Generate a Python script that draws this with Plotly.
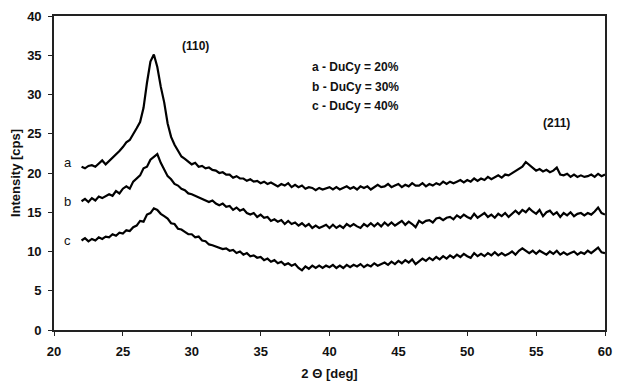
import plotly.graph_objects as go

# 2-theta grid: 22.0 .. 60.0 deg, step 0.25
theta_start = 22.0
theta_step = 0.25

curve_a = [
    20.8, 20.6, 20.9, 21.0, 20.8, 21.2, 21.6, 21.1,
    21.5, 22.0, 22.3, 22.8, 23.3, 23.9, 24.2, 24.9,
    25.7, 26.5, 28.3, 31.5, 34.2, 35.1, 33.5, 31.0,
    29.0, 26.3, 24.6, 23.6, 22.8, 22.1, 21.8, 21.5,
    21.1, 21.3, 20.8, 20.9, 20.6, 20.7, 20.4, 20.3,
    20.0, 20.1, 19.8, 19.8, 19.4, 19.6, 19.3, 19.3,
    19.0, 19.2, 18.9, 19.0, 18.7, 18.9, 18.6, 18.8,
    18.5, 18.3, 18.6, 18.4, 18.7, 18.2, 18.5, 18.2,
    18.4, 18.0, 18.2, 18.1, 17.8, 18.1, 17.9, 18.1,
    18.2, 17.9, 18.2, 17.9, 18.1, 18.3, 18.0, 18.2,
    17.9, 18.3, 18.1, 18.3, 17.9, 18.2, 18.5, 18.2,
    18.3, 18.6, 18.2, 18.4, 18.6, 18.2, 18.5, 18.3,
    18.7, 18.4, 18.4, 18.7, 18.3, 18.6, 18.4, 18.7,
    18.5, 18.9, 18.6, 18.9, 18.7, 18.9, 19.1, 18.8,
    19.1, 18.9, 19.3, 19.0, 19.3, 19.1, 19.5, 19.2,
    19.5, 19.7, 19.4, 19.8, 19.7, 20.0, 20.3, 20.5,
    20.8, 21.4, 21.0, 20.6, 20.3, 20.5, 20.2, 20.4,
    20.1, 20.3, 20.7, 19.8, 19.7, 19.9, 19.5, 19.8,
    19.5, 19.7, 19.5, 19.6, 19.8, 19.5, 19.9, 19.6,
    19.8,
]

curve_b = [
    16.4, 16.7, 16.3, 16.8, 16.5, 17.0, 16.8, 17.1,
    17.3, 17.1, 17.7, 17.4, 18.0, 18.3, 18.0, 18.9,
    19.3, 19.7, 20.6, 20.8, 21.7, 22.0, 22.4, 21.3,
    20.4, 19.6, 19.2, 18.6, 18.4, 18.0, 17.8, 17.4,
    17.3, 17.1, 17.0, 16.7, 16.6, 16.3, 16.5, 16.1,
    15.9, 16.1, 15.7, 15.8, 15.3, 15.6, 15.2, 15.4,
    14.9, 14.7, 14.9, 14.4, 14.7, 14.3, 14.4, 13.9,
    14.1, 13.8, 14.0, 13.5, 13.9, 13.5, 13.7, 13.3,
    13.6, 13.2, 13.5, 13.0, 13.3, 13.0, 13.2, 13.4,
    13.0, 13.4, 13.0, 13.3, 13.0, 13.5, 13.2, 13.5,
    13.2, 13.0, 13.5, 13.2, 13.6, 13.2, 13.6, 13.2,
    13.7, 13.3, 13.7, 13.3, 13.6, 13.9, 13.4, 13.8,
    13.5, 13.1, 13.9, 13.6, 13.9, 14.0, 13.7, 14.2,
    14.3, 14.0, 14.3, 14.4, 14.1, 14.6, 14.3, 14.7,
    14.4, 14.2, 14.8, 14.3, 14.6, 14.9, 14.4, 14.7,
    14.3, 14.8, 14.5, 14.9, 14.4, 14.8, 15.2, 14.8,
    15.3, 15.0, 15.5, 15.1, 14.8, 15.3, 14.5, 15.0,
    15.2, 14.7, 15.0, 14.4, 14.9, 14.6, 15.0, 14.5,
    14.8, 14.9, 14.6, 14.9, 14.7, 15.1, 15.6, 14.9,
    14.7,
]

curve_c = [
    11.4, 11.7, 11.3, 11.6, 11.4, 11.8, 11.6, 11.9,
    11.8, 12.2, 12.0, 12.4, 12.3, 12.7, 12.6, 13.1,
    13.3, 13.9, 13.8, 14.7, 14.9, 15.5, 15.3, 14.8,
    14.5, 14.2, 13.6, 13.5, 12.9, 12.8, 12.5, 12.2,
    12.2, 11.8, 11.9, 11.4, 11.3, 10.9, 10.8, 10.6,
    10.5, 10.3, 10.4, 10.1, 10.2, 9.8, 10.0, 9.6,
    9.8, 9.4, 9.5, 9.2, 9.3, 8.9, 9.1, 8.7,
    8.9, 8.5, 8.7, 8.3, 8.5, 8.2, 8.4, 7.9,
    7.6, 8.1, 7.8, 8.2, 7.9, 8.2, 7.9, 8.2,
    8.0, 8.3, 7.9, 8.2, 7.9, 8.3, 8.0, 8.3,
    8.1, 8.4, 8.0, 8.3, 8.1, 8.5, 8.2, 8.4,
    8.6, 8.3, 8.7, 8.4, 8.8, 8.5, 8.9, 8.6,
    9.0, 8.4, 8.8, 9.1, 8.8, 9.2, 8.9, 9.3,
    9.0, 9.4, 9.1, 9.5, 9.2, 9.6, 9.3, 9.7,
    9.4, 9.2, 9.8, 9.4, 9.7, 9.4, 9.8, 9.5,
    9.9, 9.5, 9.8, 9.5, 9.7, 10.0, 9.6, 10.1,
    10.4, 10.1, 9.8, 10.1, 9.7, 10.1, 9.8, 9.6,
    10.0, 9.7, 10.1, 9.6, 9.9, 9.6, 9.8, 10.0,
    9.6, 9.9, 9.7, 10.1, 9.8, 10.2, 10.5, 9.9,
    9.8,
]

x_ticks = [20, 25, 30, 35, 40, 45, 50, 55, 60]
y_ticks = [0, 5, 10, 15, 20, 25, 30, 35, 40]

curve_labels = ["a", "b", "c"]
curve_label_y = [21.4, 16.35, 11.4]
legend_lines = ["a - DuCy = 20%", "b - DuCy = 30%", "c - DuCy = 40%"]
legend_y = [33.5, 31.0, 28.5]
peak_labels = ["(110)", "(211)"]
peak_pos = [(30.25, 36.2), (56.5, 26.4)]

FONT = "Liberation Sans, Arial, sans-serif"

fig = go.Figure()
for ys in (curve_a, curve_b, curve_c):
    xs = [theta_start + theta_step * i for i in range(len(ys))]
    fig.add_trace(go.Scatter(x=xs, y=ys, mode="lines",
                             line=dict(color="black", width=2.2),
                             showlegend=False, hoverinfo="skip"))

for lab, yv in zip(curve_labels, curve_label_y):
    fig.add_annotation(x=21.0, y=yv, text=lab, showarrow=False,
                       font=dict(family=FONT, size=13, color="#111"))
for txt, yv in zip(legend_lines, legend_y):
    fig.add_annotation(x=38.55, y=yv, text="<b>%s</b>" % txt, showarrow=False,
                       xanchor="left", font=dict(family=FONT, size=12, color="#111"))
for txt, (px, py) in zip(peak_labels, peak_pos):
    fig.add_annotation(x=px, y=py, text="<b>%s</b>" % txt, showarrow=False,
                       font=dict(family=FONT, size=12, color="#111"))

axis_common = dict(showline=True, linecolor="#222", linewidth=1.6, mirror=True,
                   ticks="outside", ticklen=4, tickwidth=1.2, tickcolor="#222",
                   showgrid=False, zeroline=False,
                   tickfont=dict(family=FONT, size=13, color="#111"))

fig.update_xaxes(range=[20, 60], tickvals=x_ticks,
                 ticktext=["<b>%d</b>" % v for v in x_ticks],
                 ticklabelstandoff=5,
                 title=dict(text="<b>2 Θ [deg]</b>", font=dict(family=FONT, size=13, color="#111"), standoff=10),
                 **axis_common)
fig.update_yaxes(range=[0, 40], tickvals=y_ticks,
                 ticktext=["<b>%d</b>" % v for v in y_ticks],
                 ticklabelstandoff=4,
                 title=dict(text="<b>Intensity [cps]</b>", font=dict(family=FONT, size=13, color="#111"), standoff=4),
                 **axis_common)

fig.update_layout(width=621, height=388, margin=dict(l=54, r=9, t=15, b=55),
                  plot_bgcolor="white", paper_bgcolor="white")

fig.write_html("out.html")
